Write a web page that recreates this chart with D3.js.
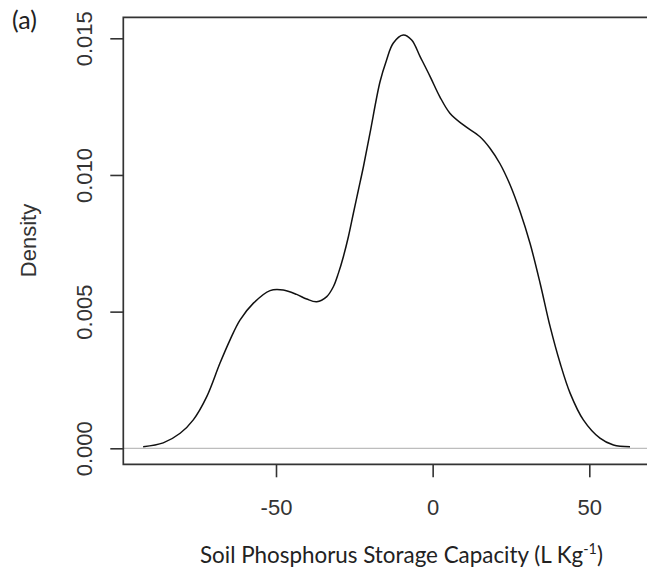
<!DOCTYPE html>
<html>
<head>
<meta charset="utf-8">
<script src="https://cdn.jsdelivr.net/npm/d3@7"></script>
<style>
  html, body { margin: 0; padding: 0; background: #fff; }
  svg { display: block; }
</style>
</head>
<body>
<svg id="chart" width="647" height="571"></svg>
<script>
// Kernel density estimate
const xValues = [-92.4, -86.0, -80.6, -76.4, -72.1, -67.9, -64.7, -61.5, -57.2, -51.9,
  -47.7, -43.4, -40.2, -37.0, -33.8, -31.7, -30.1, -28.5, -26.9, -25.3,
  -23.7, -22.1, -20.0, -16.8, -14.7, -12.6, -9.4, -6.7, -4.0, -0.8,
  2.3, 5.5, 9.8, 15.1, 18.3, 21.5, 24.7, 27.9, 31.1, 34.3,
  37.5, 40.7, 43.9, 48.1, 53.4, 57.7, 63.0];
const densityValues = [0.00006, 0.00020, 0.00055, 0.00104, 0.00189, 0.00311, 0.00396, 0.00469, 0.00531, 0.00577,
  0.00579, 0.00563, 0.00546, 0.00536, 0.00555, 0.00591, 0.00640, 0.00701, 0.00774, 0.00860,
  0.00945, 0.01030, 0.01153, 0.01341, 0.01421, 0.01482, 0.01512, 0.01494, 0.01433, 0.01360,
  0.01286, 0.01226, 0.01183, 0.01140, 0.01098, 0.01041, 0.00964, 0.00866, 0.00749, 0.00604,
  0.00445, 0.00311, 0.00201, 0.00104, 0.00037, 0.00012, 0.00006];
const xTicks = [-50, 0, 50];
const yTicks = [0, 0.005, 0.010, 0.015];
const panelLabel = "(a)";
const yTitle = "Density";
const xTitleMain = "Soil Phosphorus Storage Capacity (L Kg";
const xTitleSup = "-1";
const xTitleEnd = ")";

const svg = d3.select("#chart");
const boxLeft = 123.3, boxTop = 17.3, boxBottom = 464.3;

const x = d3.scaleLinear().domain([-50, 50]).range([276, 589.3]);
const y = d3.scaleLinear().domain([0, 0.015]).range([448.3, 38.3]);

const tickFont = "'Liberation Sans', Arial, Helvetica, sans-serif";
const titleFont = "Lato, 'Open Sans', sans-serif";
const ink = "#333";

// zero reference line
svg.append("line")
  .attr("x1", boxLeft).attr("x2", 647)
  .attr("y1", y(0)).attr("y2", y(0))
  .attr("stroke", "#bdbdbd").attr("stroke-width", 1.3);

// density curve
const data = xValues.map((v, i) => [v, densityValues[i]]);
svg.append("path")
  .datum(data)
  .attr("fill", "none")
  .attr("stroke", "#111")
  .attr("stroke-width", 1.5)
  .attr("d", d3.line().x(d => x(d[0])).y(d => y(d[1])).curve(d3.curveCatmullRom.alpha(0.5)));

// plot box (right side runs off the image)
svg.append("path")
  .attr("d", `M700,${boxTop}H${boxLeft}V${boxBottom}H700`)
  .attr("fill", "none").attr("stroke", ink).attr("stroke-width", 1.7);

// y axis
const gy = svg.append("g").attr("transform", `translate(${boxLeft},0)`)
  .call(d3.axisLeft(y).tickValues(yTicks).tickFormat(d3.format(".3f")).tickSize(13));
gy.select(".domain").remove();
gy.selectAll(".tick line").attr("stroke", ink).attr("stroke-width", 1.6);
gy.selectAll(".tick text")
  .attr("transform", "rotate(-90)")
  .attr("x", 0).attr("y", -31.3).attr("dy", 0)
  .attr("text-anchor", "middle")
  .attr("fill", ink)
  .style("font-family", tickFont).style("font-size", "22px");

// x axis
const gx = svg.append("g").attr("transform", `translate(0,${boxBottom})`)
  .call(d3.axisBottom(x).tickValues(xTicks).tickFormat(d => String(d)).tickSize(13));
gx.select(".domain").remove();
gx.selectAll(".tick line").attr("stroke", ink).attr("stroke-width", 1.6);
gx.selectAll(".tick text")
  .attr("y", 50.7).attr("dy", 0)
  .attr("fill", ink)
  .style("font-family", tickFont).style("font-size", "22px");

// y title
svg.append("text")
  .attr("transform", "translate(36,240.5) rotate(-90)")
  .attr("text-anchor", "middle")
  .attr("fill", ink)
  .style("font-family", tickFont).style("font-size", "22px")
  .text(yTitle);

// x title with superscript
const xt = svg.append("text")
  .attr("x", 200).attr("y", 563)
  .attr("fill", "#222")
  .style("font-family", titleFont).style("font-size", "22px");
xt.append("tspan").text(xTitleMain);
xt.append("tspan").attr("dy", -8).style("font-size", "14px").text(xTitleSup);
xt.append("tspan").attr("dy", 8).text(xTitleEnd);
// fit title width to the reference span (200 -> 603)
const w = xt.node().getComputedTextLength();
const fs = 22 * 403 / w;
xt.style("font-size", fs + "px");
xt.selectAll("tspan").filter((d, i) => i === 1).style("font-size", (fs * 0.64) + "px").attr("dy", -fs * 0.38);
xt.selectAll("tspan").filter((d, i) => i === 2).attr("dy", fs * 0.38);

// panel label
svg.append("text")
  .attr("x", 12).attr("y", 29)
  .attr("fill", "#222")
  .style("font-family", titleFont).style("font-size", "25px")
  .text(panelLabel);
</script>
</body>
</html>
